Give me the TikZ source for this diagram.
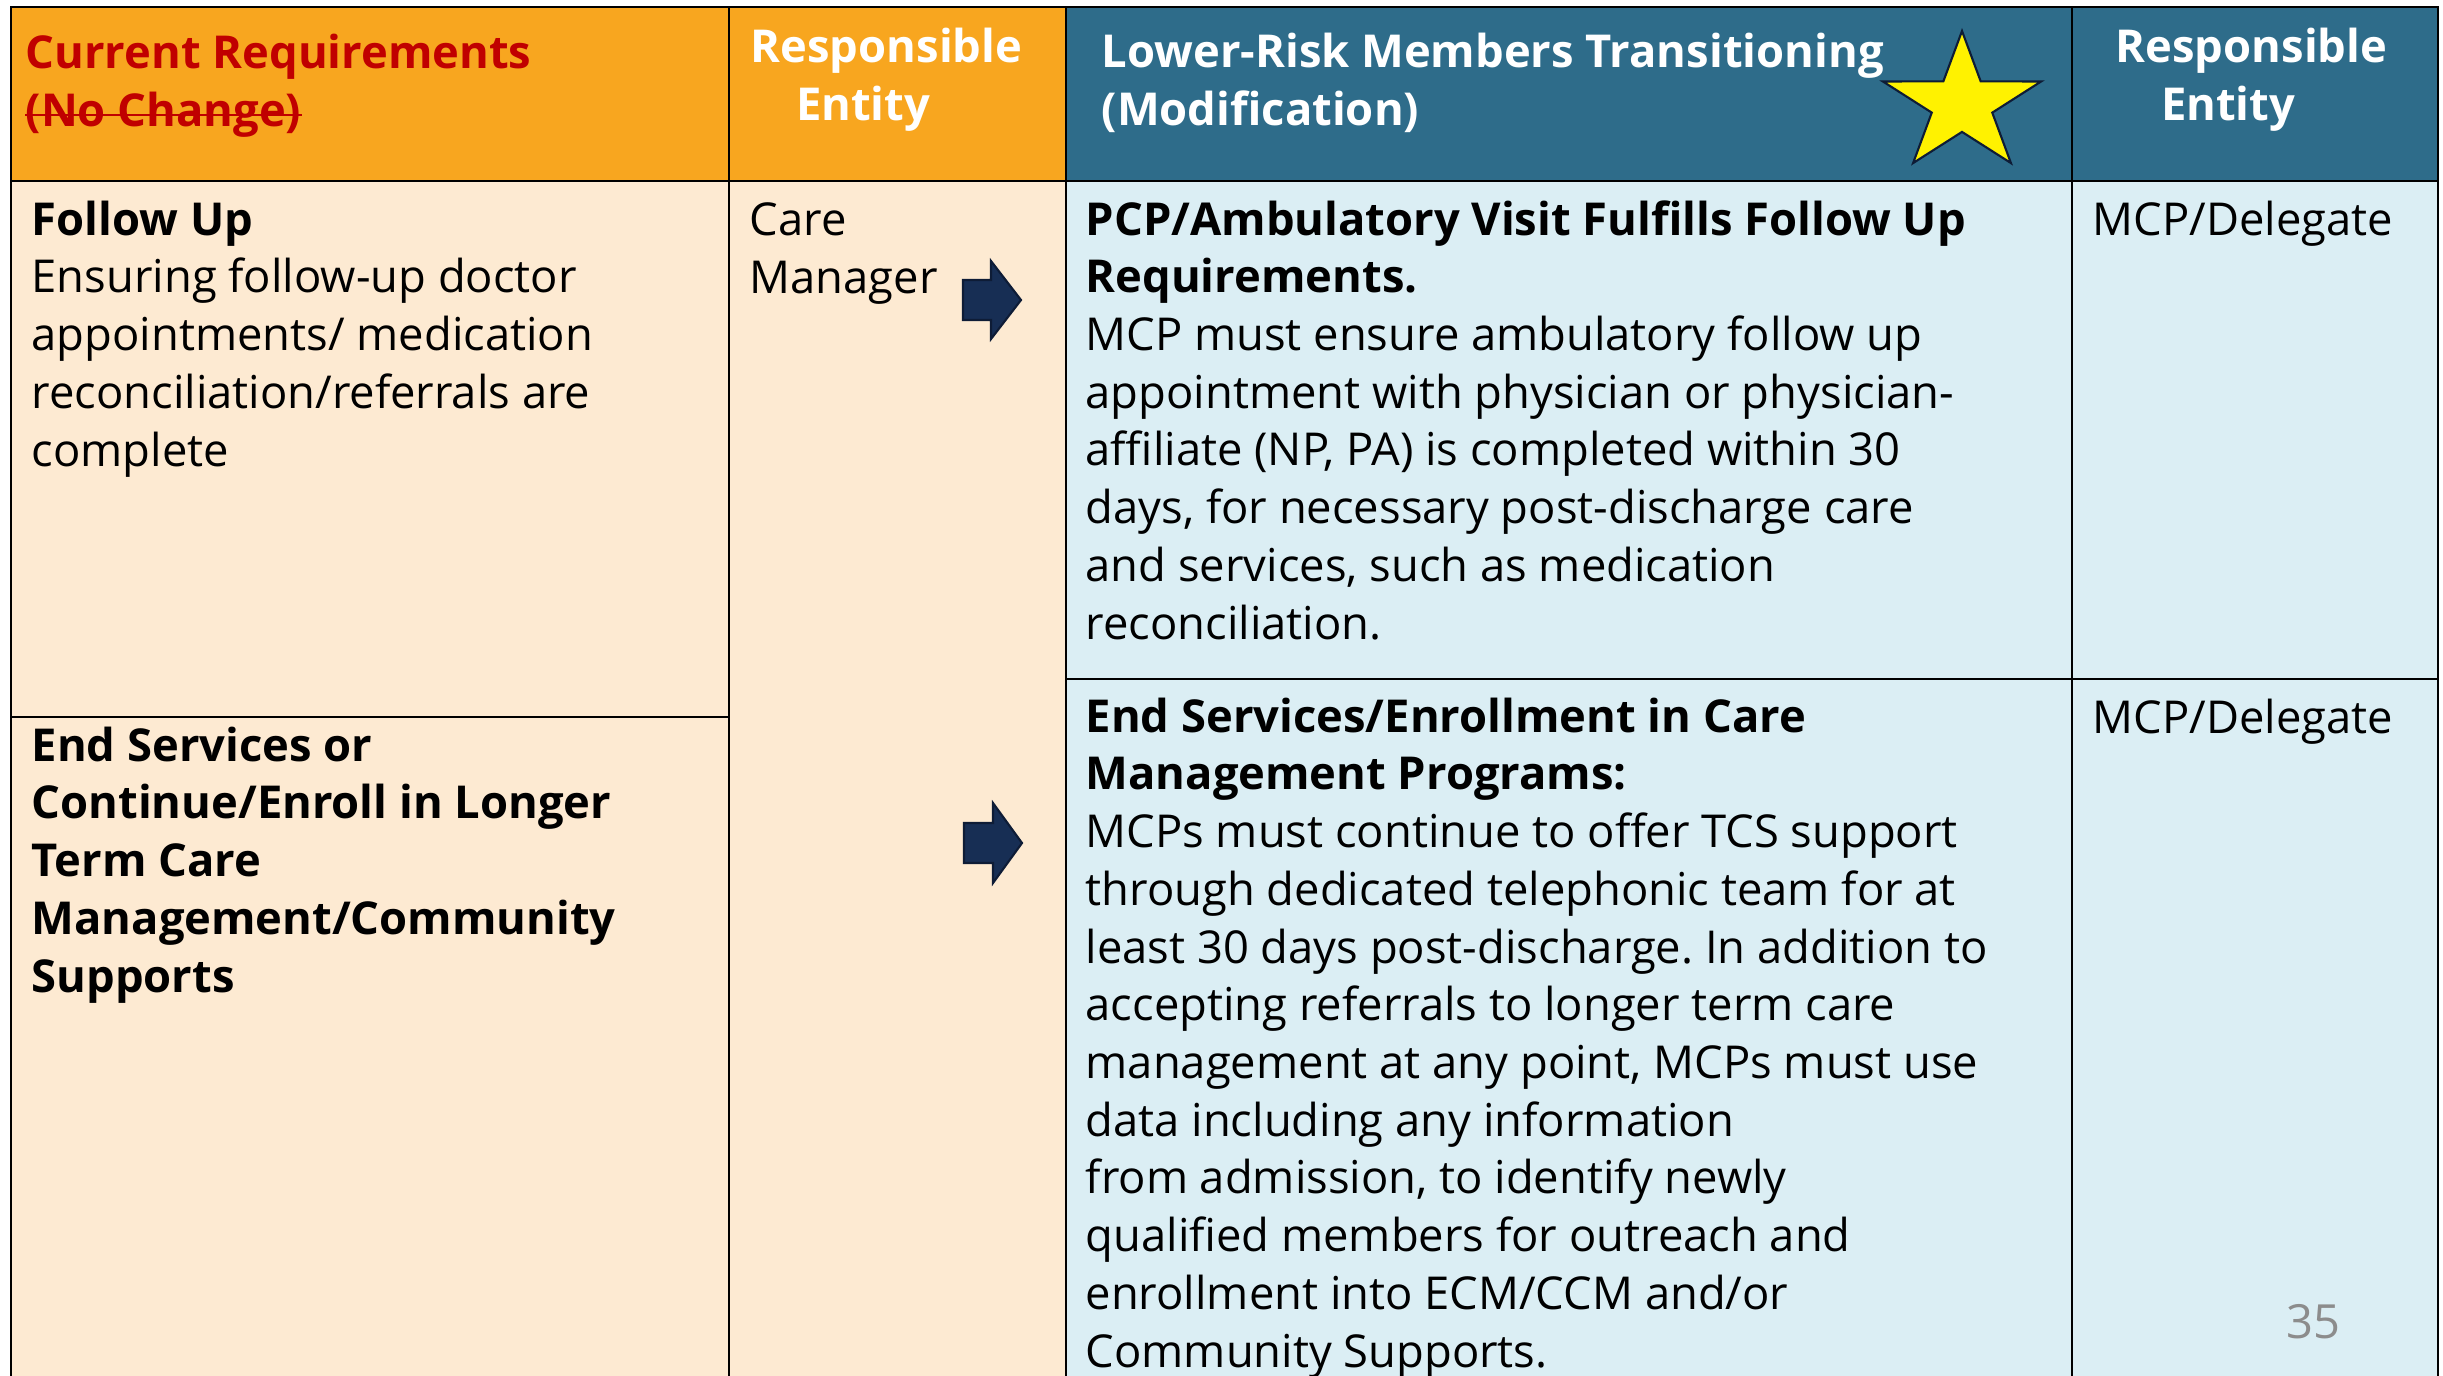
\documentclass[tikz,border=0pt]{standalone}
\usepackage{fontspec}
\setmainfont{Open Sans}
\frenchspacing

\definecolor{hdrorange}{HTML}{F8A61F}
\definecolor{bodyorange}{HTML}{FDEAD2}
\definecolor{hdrblue}{HTML}{2E6C8A}
\definecolor{bodyblue}{HTML}{DBEEF4}
\definecolor{arrownavy}{HTML}{172E54}
\definecolor{arrowedge}{HTML}{0E1C36}
\definecolor{reqred}{HTML}{C00000}
\definecolor{pagegray}{HTML}{8C8C8C}

\newcommand\cellfont{\fontsize{12.9}{16.42}\selectfont}

\begin{document}
\begin{tikzpicture}[x=0.1mm,y=-0.1mm]
\tikzset{every node/.style={inner sep=0pt}}
% base anchor of a multi-line node sits on its last line
\tikzset{celltext/.style={anchor=base west, align=left, font=\cellfont}}
\tikzset{hdrtext/.style={celltext, font=\cellfont\bfseries, text=white}}
\tikzset{gridline/.style={black, line width=0.8pt}}
\tikzset{blockarrow/.style={fill=arrownavy, draw=arrowedge, line width=0.6pt, line join=miter}}
\useasboundingbox (0,0) rectangle (2443,1375);
\clip (0,0) rectangle (2443,1375);
% backgrounds
\fill [hdrorange] (11,7) rectangle (1066,181);
\fill [hdrblue] (1066,7) rectangle (2438,181);
\fill [bodyorange] (11,181) rectangle (1066,1390);
\fill [bodyblue] (1066,181) rectangle (2438,1390);
% grid
\draw [gridline] (11,1390) -- (11,7) -- (2438,7) -- (2438,1390);
\draw [gridline] (729,7) -- (729,1390);
\draw [gridline] (1066,7) -- (1066,1390);
\draw [gridline] (2072,7) -- (2072,1390);
\draw [gridline] (11,181) -- (2438,181);
\draw [gridline] (11,717) -- (729,717);
\draw [gridline] (1066,679) -- (2438,679);
% header row
\node [hdrtext, text=reqred] (curreq) at (25,68) {Current Requirements};
\node [hdrtext, text=reqred] (nochange) at (25,126) {(No Change)};
\coordinate (strikey) at (0,115);
\draw [reqred, line width=0.8pt] (nochange.west |- strikey) -- (nochange.east |- strikey);
\node [hdrtext] (resp1) at (750,120) {Responsible\\\hspace*{1.0em}Entity};
\node [hdrtext] (lowrisk) at (1101,125) {Lower-Risk Members Transitioning\\(Modification)};
\node [hdrtext] (resp2) at (2115,120) {Responsible\\\hspace*{1.0em}Entity};
% star
\begin{scope}[shift={(1962,104)}, xscale=1.14]
\draw [fill=yellow, draw=arrowedge, line width=0.6pt, line join=miter]
  (-90:73) -- (-54:27.9) -- (-18:73) -- (18:27.9) -- (54:73) -- (90:27.9)
  -- (126:73) -- (162:27.9) -- (198:73) -- (234:27.9) -- cycle;
\end{scope}
% current requirements
\node [celltext] (followup) at (31,466)
  {\textbf{Follow Up}\\Ensuring follow-up doctor\\appointments/ medication\\reconciliation/referrals are\\complete};
\node [celltext, font=\cellfont\bfseries] (endserv) at (31,992)
  {End Services or\\Continue/Enroll in Longer\\Term Care\\Management/Community\\Supports};
\node [celltext] (caremgr) at (749,293) {Care\\Manager};
% arrows
\draw [blockarrow] (963,280) -- (991,280) -- (991,261) -- (1021,300) -- (991,339) -- (991,320) -- (963,320) -- cycle;
\draw [blockarrow] (964,823) -- (993,823) -- (993,803) -- (1022,843) -- (993,883) -- (993,863) -- (964,863) -- cycle;
% modification
\node [celltext] (pcpvisit) at (1085,639)
  {\textbf{PCP/Ambulatory Visit Fulfills Follow Up}\\\textbf{Requirements.}\\MCP must ensure ambulatory follow up\\appointment with physician or physician-\\affiliate (NP, PA) is completed within 30\\days, for necessary post-discharge care\\and services, such as medication\\reconciliation.};
\node [celltext] (mcpdel1) at (2092,235) {MCP/Delegate};
\node [celltext] (enrollcm) at (1085,1367)
  {\textbf{End Services/Enrollment in Care}\\\textbf{Management Programs:}\\MCPs must continue to offer TCS support\\through dedicated telephonic team for at\\least 30 days post-discharge. In addition to\\accepting referrals to longer term care\\management at any point, MCPs must use\\data including any information\\from admission, to identify newly\\qualified members for outreach and\\enrollment into ECM/CCM and/or\\Community Supports.};
\node [celltext] (mcpdel2) at (2092,733) {MCP/Delegate};
% page number
\node [celltext, font=\fontsize{13.4}{16}\selectfont, text=pagegray] (pagenum) at (2286,1338) {35};
\end{tikzpicture}
\end{document}
